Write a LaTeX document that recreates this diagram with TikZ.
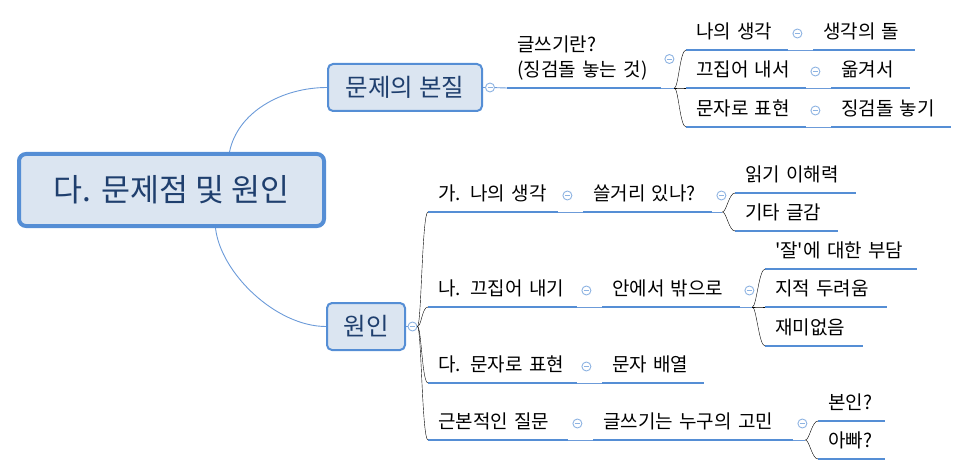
\documentclass[tikz,border=0pt]{standalone}
\usepackage{fontspec}
\setmainfont{Noto Sans CJK KR}
\usetikzlibrary{positioning}

\definecolor{boxline}{HTML}{558ED5}
\definecolor{boxfill}{HTML}{DBE5F1}
\definecolor{boxtext}{HTML}{1F3F6E}
\definecolor{thinline}{HTML}{6C9BD9}
\definecolor{foldline}{HTML}{8DB3E2}

\tikzset{
  central/.style={draw=boxline, line width=4pt, fill=boxfill, rounded corners=7pt,
    minimum width=305pt, minimum height=72pt, text=boxtext, font=\fontsize{31.5}{36}\selectfont},
  mainbox/.style={draw=boxline, line width=2pt, fill=boxfill, rounded corners=5pt,
    minimum height=47pt, text=boxtext, font=\fontsize{24.5}{29}\selectfont},
  topic/.style={anchor=south west, inner xsep=10pt, inner ysep=0pt, text depth=11pt,
    align=left, font=\fontsize{19}{25}\selectfont},
  uline/.style={draw=boxline, line width=2.8pt},
  link/.style={draw=thinline, line width=0.9pt},
  branch/.style={link, out=0, in=180, out distance=4pt, in distance=6pt},
  fold/.style={circle, draw=foldline, fill=white, line width=0.9pt, minimum size=9pt, inner sep=0pt,
    path picture={\draw[foldline, line width=0.9pt] ([xshift=2pt]path picture bounding box.west)
      -- ([xshift=-2pt]path picture bounding box.east);}}
}

\begin{document}
\begin{tikzpicture}[x=1pt, y=-1pt]
\useasboundingbox (0,0) rectangle (969,476);

% main topics
\node[central] (root) at (171.5,190) {다. 문제점 및 원인};
\node[mainbox, minimum width=154pt] (essence) at (405,87.5) {문제의 본질};
\node[mainbox, minimum width=78pt] (cause) at (366,326.5) {원인};

\draw[link] ([xshift=58pt]root.north) .. controls +(8,-40) and +(-45,0) .. (essence.west);
\draw[link] ([xshift=44pt]root.south) .. controls +(5,45) and +(-50,0) .. (cause.west);

% upper branch
\node[topic, text width=134pt, text depth=36pt] (q) at (507,88) {글쓰기란?\\(징검돌 놓는 것)};
\node[topic, text width=82pt] (a1) at (686,50) {나의 생각};
\node[topic, text width=82pt] (a2) at (813,50) {생각의 돌};
\node[topic, text width=100pt] (b1) at (686,88) {끄집어 내서};
\node[topic, text width=59pt] (b2) at (831,88) {옮겨서};
\node[topic, text width=100pt] (c1) at (686,127) {문자로 표현};
\node[topic, text width=100pt] (c2) at (831,127) {징검돌 놓기};

% lower branch
\node[topic, text width=110pt] (r1) at (428,212) {가. 나의 생각};
\node[topic, text width=109pt] (r1a) at (583,212) {쓸거리 있나?};
\node[topic, text width=101pt] (r1b) at (735,193) {읽기 이해력};
\node[topic, text width=83pt] (r1c) at (735,231) {기타 글감};
\node[topic, text width=129pt] (r2) at (428,307) {나. 끄집어 내기};
\node[topic, text width=118pt] (r2a) at (602,307) {안에서 밖으로};
\node[topic, text width=132pt] (r2b) at (765,269) {\textquotesingle 잘\textquotesingle 에 대한 부담};
\node[topic, text width=102pt] (r2c) at (765,307) {지적 두려움};
\node[topic, text width=78pt] (r2d) at (765,346) {재미없음};
\node[topic, text width=129pt] (r3) at (428,383) {다. 문자로 표현};
\node[topic, text width=82pt] (r3a) at (602,383) {문자 배열};
\node[topic, text width=120pt] (r4) at (428,440) {근본적인 질문};
\node[topic, text width=180pt] (r4a) at (593,440) {글쓰기는 누구의 고민};
\node[topic, text width=47pt] (r4b) at (818,421) {본인?};
\node[topic, text width=47pt] (r4c) at (818,459) {아빠?};

\foreach \n in {q,a1,a2,b1,b2,c1,c2,r1,r1a,r1b,r1c,r2,r2a,r2b,r2c,r2d,r3,r3a,r4,r4a,r4b,r4c}
  \draw[uline] (\n.south west) -- (\n.south east);

% fold markers
\node[fold] (fe) at ([xshift=7pt]essence.east) {};
\node[fold] (fc) at ([xshift=6.5pt]cause.east) {};
\node[fold] (fq) at ([xshift=8pt,yshift=29pt]q.south east) {};
\foreach \n in {a1,b1,c1,r1,r1a,r2,r2a,r3,r4,r4a}
  \node[fold] (f\n) at ([xshift=9pt,yshift=16.5pt]\n.south east) {};

% connectors
\coordinate (jq) at ([xshift=13pt]q.south east);
\coordinate (j1) at ([xshift=10pt]r1a.south east);
\coordinate (j2) at ([xshift=12pt]r2a.south east);
\coordinate (j4) at ([xshift=12pt]r4a.south east);

\draw[link] (essence.east) -- (fe) -- (q.south west);
\draw[link] (q.south east) -- (jq);
\foreach \c in {a1,b1,c1} \draw (jq) to[branch] (\c.south west);
\draw[link] (a1.south east) -- (a2.south west);
\draw[link] (b1.south east) -- (b2.south west);
\draw[link] (c1.south east) -- (c2.south west);

\draw[link] (cause.east) -- (fc);
\foreach \c in {r1,r2,r3,r4} \draw (fc.east) to[branch] (\c.south west);
\draw[link] (r1.south east) -- (r1a.south west);
\draw[link] (r2.south east) -- (r2a.south west);
\draw[link] (r3.south east) -- (r3a.south west);
\draw[link] (r4.south east) -- (r4a.south west);
\draw[link] (r1a.south east) -- (j1);
\draw[link] (r2a.south east) -- (j2);
\draw[link] (r4a.south east) -- (j4);
\foreach \c in {r1b,r1c} \draw (j1) to[branch] (\c.south west);
\foreach \c in {r2b,r2c,r2d} \draw (j2) to[branch] (\c.south west);
\foreach \c in {r4b,r4c} \draw (j4) to[branch] (\c.south west);
\end{tikzpicture}
\end{document}
